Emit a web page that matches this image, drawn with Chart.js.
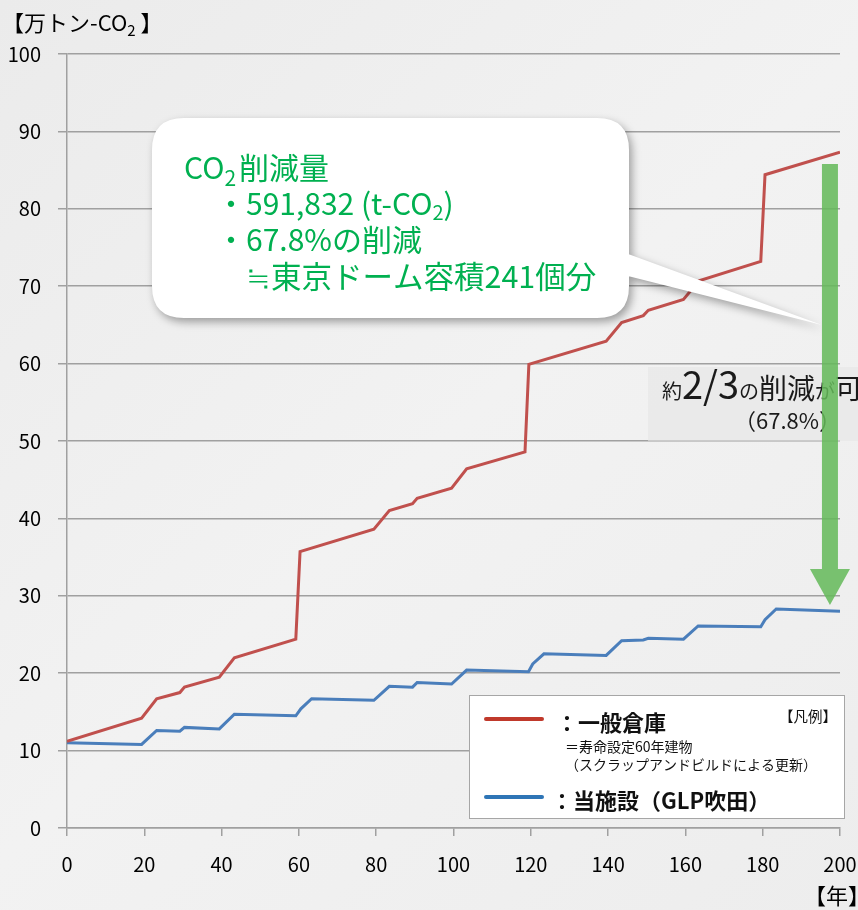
<!DOCTYPE html>
<html lang="ja">
<head>
  <meta charset="UTF-8">
  <title>CO2排出量の比較</title>
  <script src="https://cdn.jsdelivr.net/npm/chart.js"></script>
  <style>
    html, body {
      margin: 0;
      padding: 0;
      background: #efefef;
      overflow: hidden;
    }
    canvas {
      display: block;
    }
  </style>
</head>
<body>
  <canvas id="co2Chart" width="858" height="910"></canvas>

  <script>
    // 一般倉庫 (red) – cumulative CO2 [万トン-CO2] by year
    const warehouseYears  = [0, 19.3, 23.2, 29.2, 30.4, 39.4, 43.3, 59.2, 60.3, 79.4, 83.4, 89.4, 90.6, 99.5, 103.4, 118.5, 119.5, 139.5, 143.5, 149.1, 150.4, 159.5, 163.5, 179.5, 180.6, 200];
    const warehouseValues = [11.2, 14.2, 16.7, 17.5, 18.2, 19.5, 22.0, 24.4, 35.7, 38.6, 41.0, 41.9, 42.6, 43.9, 46.4, 48.6, 59.9, 62.9, 65.3, 66.2, 66.9, 68.3, 70.7, 73.2, 84.4, 87.3];

    // 当施設 GLP吹田 (blue)
    const glpYears  = [0, 19.3, 23.2, 29.2, 30.4, 39.4, 43.3, 59.2, 60.5, 63.3, 79.4, 83.4, 89.4, 90.6, 99.5, 103.4, 119.4, 120.5, 123.4, 139.5, 143.5, 149.1, 150.4, 159.5, 163.3, 179.5, 180.6, 183.5, 200];
    const glpValues = [11.0, 10.8, 12.6, 12.5, 13.0, 12.8, 14.7, 14.5, 15.4, 16.7, 16.5, 18.3, 18.2, 18.8, 18.6, 20.4, 20.2, 21.2, 22.5, 22.3, 24.2, 24.3, 24.5, 24.4, 26.1, 26.0, 26.9, 28.3, 28.0];

    const xTickValues = [0, 20, 40, 60, 80, 100, 120, 140, 160, 180, 200];
    const yTickValues = [0, 10, 20, 30, 40, 50, 60, 70, 80, 90, 100];

    // arrow between the two curves (year, top value, tip value)
    const arrowYear = 197.4;
    const arrowTop = 85.8;
    const arrowTip = 28.8;

    const FONT = "'Noto Sans CJK JP', 'Noto Sans', sans-serif";
    const GREEN = '#00b050';
    const GRID = '#a0a0a0';

    // draws a sequence of text pieces (for subscripts / mixed sizes)
    function drawRuns(ctx, x, y, runs, color) {
      ctx.fillStyle = color;
      ctx.textBaseline = 'alphabetic';
      ctx.textAlign = 'left';
      runs.forEach(r => {
        ctx.font = (r.bold ? 'bold ' : '') + r.size + 'px ' + FONT;
        ctx.fillText(r.t, x, y + (r.dy || 0));
        x += ctx.measureText(r.t).width + (r.gap || 0);
      });
      return x;
    }

    function roundRect(ctx, x, y, w, h, r) {
      ctx.moveTo(x + r, y);
      ctx.lineTo(x + w - r, y);
      ctx.quadraticCurveTo(x + w, y, x + w, y + r);
      ctx.lineTo(x + w, y + h - r);
      ctx.quadraticCurveTo(x + w, y + h, x + w - r, y + h);
      ctx.lineTo(x + r, y + h);
      ctx.quadraticCurveTo(x, y + h, x, y + h - r);
      ctx.lineTo(x, y + r);
      ctx.quadraticCurveTo(x, y, x + r, y);
      ctx.closePath();
    }

    const backgroundPlugin = {
      id: 'bg',
      beforeDraw(chart) {
        const ctx = chart.ctx;
        const g = ctx.createLinearGradient(0, 0, chart.width, chart.height);
        g.addColorStop(0, '#ebebeb');
        g.addColorStop(0.5, '#f2f2f2');
        g.addColorStop(1, '#ededed');
        ctx.save();
        ctx.fillStyle = g;
        ctx.fillRect(0, 0, chart.width, chart.height);
        ctx.restore();
      }
    };

    const annotationPlugin = {
      id: 'notes',
      afterDraw(chart) {
        const ctx = chart.ctx;
        const xs = chart.scales.x;
        const ys = chart.scales.y;
        ctx.save();

        // axis titles
        drawRuns(ctx, 2, 31, [
          { t: '【万トン-CO', size: 22 },
          { t: '2', size: 15, dy: 5 },
          { t: ' 】', size: 22 }
        ], '#000');
        drawRuns(ctx, 804, 904, [{ t: '【年】', size: 22 }], '#000');

        // speech bubble
        ctx.save();
        ctx.shadowColor = 'rgba(0,0,0,0.35)';
        ctx.shadowBlur = 8;
        ctx.shadowOffsetX = 3;
        ctx.shadowOffsetY = 4;
        ctx.fillStyle = '#ffffff';
        ctx.beginPath();
        roundRect(ctx, 152, 118, 477, 200, 32);
        ctx.moveTo(620, 251);
        ctx.lineTo(822, 325);
        ctx.lineTo(620, 274);
        ctx.closePath();
        ctx.fill();
        ctx.restore();

        drawRuns(ctx, 184, 179, [
          { t: 'CO', size: 30 },
          { t: '2', size: 21, dy: 7, gap: 3 },
          { t: '削減量', size: 30 }
        ], GREEN);
        drawRuns(ctx, 216, 215, [
          { t: '・', size: 30 },
          { t: '591,832 (t-CO', size: 30 },
          { t: '2', size: 20, dy: 5 },
          { t: ')', size: 30 }
        ], GREEN);
        drawRuns(ctx, 216, 251, [
          { t: '・', size: 30 },
          { t: '67.8%の削減', size: 30 }
        ], GREEN);
        drawRuns(ctx, 246, 288, [
          { t: '≒東京ドーム容積241個分', size: 30.5 }
        ], GREEN);

        // reduction label box
        ctx.fillStyle = 'rgba(230,230,230,0.6)';
        ctx.fillRect(648, 367, 210, 74);
        drawRuns(ctx, 662, 399, [
          { t: '約', size: 20 },
          { t: '2/3', size: 38 },
          { t: 'の', size: 20 },
          { t: '削減', size: 28 },
          { t: 'が', size: 20 },
          { t: '可能', size: 28 }
        ], '#1a1a1a');
        drawRuns(ctx, 734, 429, [{ t: '（67.8%）', size: 22 }], '#1a1a1a');

        // green arrow
        const ax = xs.getPixelForValue(arrowYear);
        const aTop = ys.getPixelForValue(arrowTop);
        const aTip = ys.getPixelForValue(arrowTip);
        const headH = 36;
        ctx.fillStyle = 'rgba(100,185,90,0.86)';
        ctx.beginPath();
        ctx.moveTo(ax - 8, aTop);
        ctx.lineTo(ax + 8, aTop);
        ctx.lineTo(ax + 8, aTip - headH);
        ctx.lineTo(ax + 20, aTip - headH);
        ctx.lineTo(ax, aTip);
        ctx.lineTo(ax - 20, aTip - headH);
        ctx.lineTo(ax - 8, aTip - headH);
        ctx.closePath();
        ctx.fill();

        // legend box
        ctx.fillStyle = '#ffffff';
        ctx.fillRect(469.5, 695.5, 375, 123);
        ctx.strokeStyle = '#a6a6a6';
        ctx.lineWidth = 1;
        ctx.strokeRect(469.5, 695.5, 375, 123);

        ctx.lineCap = 'round';
        ctx.lineWidth = 4;
        ctx.strokeStyle = '#c0392b';
        ctx.beginPath();
        ctx.moveTo(486, 719);
        ctx.lineTo(542, 719);
        ctx.stroke();
        ctx.strokeStyle = '#2e75b6';
        ctx.beginPath();
        ctx.moveTo(486, 797);
        ctx.lineTo(542, 797);
        ctx.stroke();

        drawRuns(ctx, 556, 731, [{ t: '：一般倉庫', size: 22, bold: true }], '#111');
        drawRuns(ctx, 779, 722, [{ t: '【凡例】', size: 14.5 }], '#111');
        drawRuns(ctx, 565, 752, [{ t: '＝寿命設定60年建物', size: 14 }], '#111');
        drawRuns(ctx, 565, 770, [{ t: '（スクラップアンドビルドによる更新）', size: 14 }], '#111');
        drawRuns(ctx, 551, 809, [{ t: '：当施設（GLP吹田）', size: 22, bold: true }], '#111');

        ctx.restore();
      }
    };

    const ctx = document.getElementById('co2Chart').getContext('2d');
    new Chart(ctx, {
      type: 'line',
      data: {
        datasets: [
          {
            label: '一般倉庫',
            data: warehouseYears.map((x, i) => ({ x: x, y: warehouseValues[i] })),
            borderColor: '#c0504d',
            borderWidth: 3,
            pointRadius: 0,
            tension: 0,
            fill: false
          },
          {
            label: '当施設（GLP吹田）',
            data: glpYears.map((x, i) => ({ x: x, y: glpValues[i] })),
            borderColor: '#4a7ebb',
            borderWidth: 3,
            pointRadius: 0,
            tension: 0,
            fill: false
          }
        ]
      },
      options: {
        responsive: false,
        animation: false,
        devicePixelRatio: 1,
        layout: {
          padding: { top: 54, right: 18, bottom: 0, left: 0 }
        },
        plugins: {
          legend: { display: false },
          tooltip: { enabled: false }
        },
        scales: {
          x: {
            type: 'linear',
            min: 0,
            max: 200,
            afterFit: s => { s.height = 82; s.paddingLeft = 0; s.paddingRight = 0; },
            afterBuildTicks: s => { s.ticks = xTickValues.map(v => ({ value: v })); },
            ticks: {
              color: '#000',
              font: { family: FONT, size: 20 },
              padding: 16,
              maxRotation: 0
            },
            grid: {
              drawOnChartArea: false,
              color: GRID,
              lineWidth: 1.5,
              tickLength: 8
            },
            border: { color: GRID, width: 1.5 }
          },
          y: {
            min: 0,
            max: 100,
            afterFit: s => { s.width = 67; s.paddingTop = 0; s.paddingBottom = 0; },
            afterBuildTicks: s => { s.ticks = yTickValues.map(v => ({ value: v })); },
            ticks: {
              color: '#000',
              font: { family: FONT, size: 20 },
              padding: 17
            },
            grid: {
              color: GRID,
              lineWidth: 1.5,
              tickLength: 9
            },
            border: { color: GRID, width: 1.5 }
          }
        }
      },
      plugins: [backgroundPlugin, annotationPlugin]
    });
  </script>
</body>
</html>
